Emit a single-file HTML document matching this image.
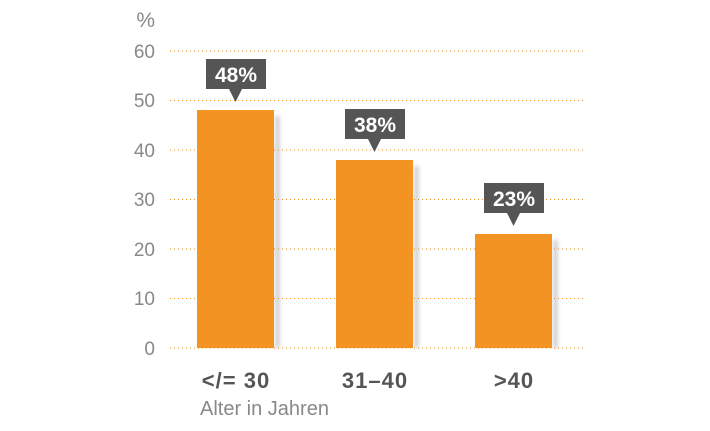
<!DOCTYPE html><html><head><style>body{margin:0;background:#fff}</style></head><body>
<svg width="710" height="426" xmlns="http://www.w3.org/2000/svg" font-family="Liberation Sans, sans-serif">
<defs><filter id="s" x="-20%" y="-5%" width="150%" height="110%"><feGaussianBlur stdDeviation="2"/></filter></defs>
<g fill="#888" font-size="19" text-anchor="end">
<text x="155" y="27" font-size="21">%</text>
<text x="155" y="58">60</text><text x="155" y="107">50</text><text x="155" y="157">40</text>
<text x="155" y="206">30</text><text x="155" y="256">20</text><text x="155" y="305">10</text><text x="155" y="355">0</text>
</g>
<g stroke="#f39323" stroke-width="1" stroke-dasharray="1 3">
<line x1="170" x2="585" y1="51" y2="51"/><line x1="170" x2="585" y1="100.5" y2="100.5"/>
<line x1="170" x2="585" y1="150" y2="150"/><line x1="170" x2="585" y1="199.5" y2="199.5"/>
<line x1="170" x2="585" y1="249" y2="249"/><line x1="170" x2="585" y1="298.5" y2="298.5"/>
<line x1="170" x2="585" y1="348" y2="348"/>
</g>
<g fill="#999" filter="url(#s)" opacity="0.7">
<rect x="276" y="116" width="3" height="232"/><rect x="415" y="166" width="3" height="182"/><rect x="554" y="240" width="3" height="108"/>
</g>
<g fill="#f39323">
<rect x="197" y="110" width="77" height="238"/>
<rect x="336" y="160" width="77" height="188"/>
<rect x="475" y="234" width="77" height="114"/>
</g>
<g fill="#555">
<rect x="206" y="59" width="60" height="30"/><path d="M229 89 L235.5 102 L242 89Z"/>
<rect x="345" y="109" width="60" height="30"/><path d="M368 139 L374.5 152 L381 139Z"/>
<rect x="484" y="183" width="60" height="30"/><path d="M507 213 L513.5 226 L520 213Z"/>
</g>
<g fill="#fff" font-size="21" font-weight="bold" text-anchor="middle">
<text x="236" y="82">48%</text><text x="375" y="132">38%</text><text x="514" y="206">23%</text>
</g>
<g fill="#555" font-size="22" font-weight="bold" text-anchor="middle" letter-spacing="1">
<text x="236" y="388">&lt;/= 30</text><text x="375" y="388">31–40</text><text x="514" y="388">&gt;40</text>
</g>
<text x="200" y="415" fill="#888" font-size="20">Alter in Jahren</text>
</svg>
</body></html>
